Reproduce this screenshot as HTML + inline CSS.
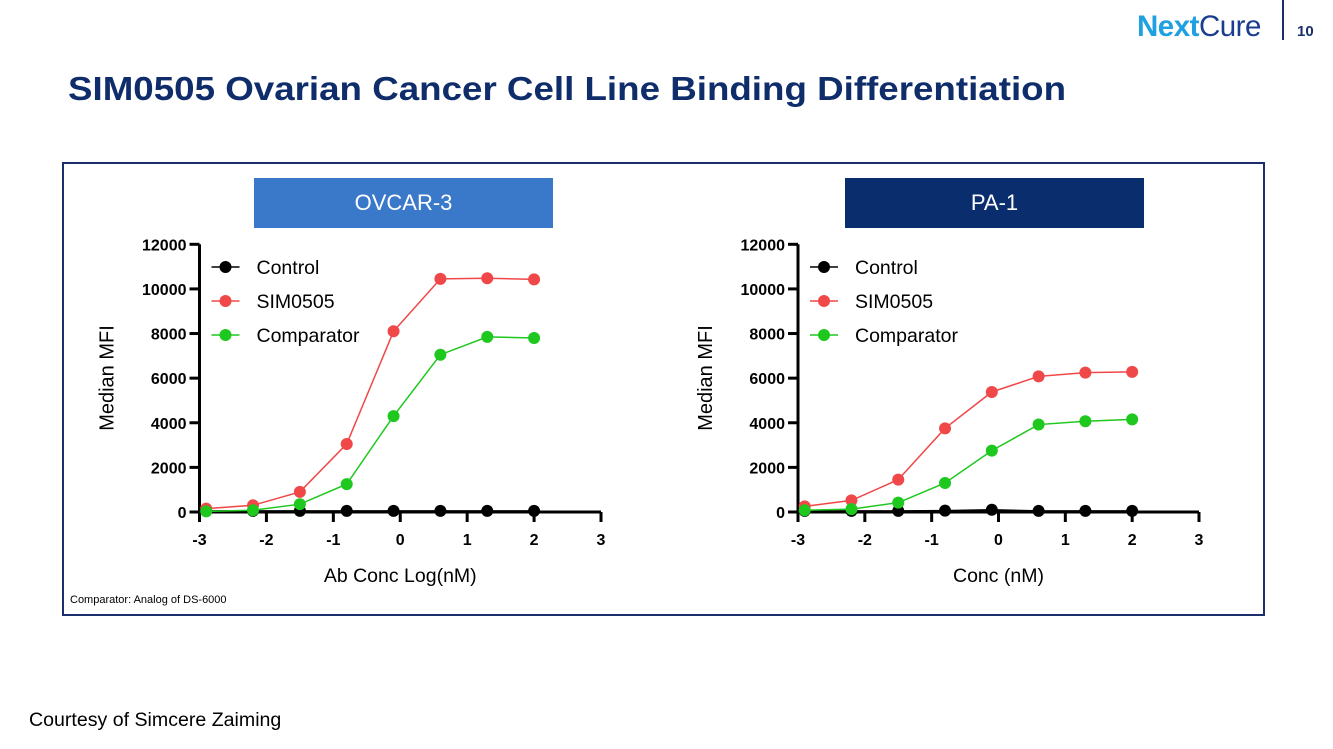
<!DOCTYPE html>
<html><head><meta charset="utf-8"><style>
body{margin:0;width:1333px;height:749px;background:#fff;font-family:"Liberation Sans",sans-serif;position:relative;overflow:hidden}
.abs{position:absolute}
</style></head><body>
<div class="abs" style="left:1137px;top:10px;font-size:29.5px;font-weight:bold;color:#1fa0e0;letter-spacing:-0.5px">Next<span style="color:#1a3d8f;font-weight:normal">Cure</span></div>
<div class="abs" style="left:1282px;top:0;width:2px;height:40px;background:#1a2f6b"></div>
<div class="abs" style="left:1297px;top:23px;font-size:15px;font-weight:bold;color:#1a2f6b">10</div>
<div class="abs" style="left:68px;top:70px;font-size:33px;font-weight:bold;color:#0f2d6b;transform:scaleX(1.113);transform-origin:0 0;white-space:nowrap">SIM0505 Ovarian Cancer Cell Line Binding Differentiation</div>
<div class="abs" style="left:62px;top:162px;width:1199px;height:450px;border:2px solid #1a2f6b"></div>
<div class="abs" style="left:254px;top:178px;width:299px;height:50px;background:#3a78c9;color:#fff;font-size:22px;line-height:50px;text-align:center">OVCAR-3</div>
<div class="abs" style="left:845px;top:178px;width:299px;height:50px;background:#0a2d6e;color:#fff;font-size:22px;line-height:50px;text-align:center">PA-1</div>
<div class="abs" style="left:70px;top:594px;font-size:11px;color:#000">Comparator: Analog of DS-6000</div>
<div class="abs" style="left:29px;top:710px;font-size:19px;color:#000;transform:scaleX(1.03);transform-origin:0 0">Courtesy of Simcere Zaiming</div>
<svg id="svg" class="abs" style="left:0;top:0" width="1333" height="749"></svg>
<script>
const xValues=[-2.9,-2.2,-1.5,-0.8,-0.1,0.6,1.3,2.0];
const xTicks=[-3,-2,-1,0,1,2,3];
const yTicks=[0,2000,4000,6000,8000,10000,12000];
const ovControl=[50,50,50,50,50,50,50,50];
const ovSim=[150,300,900,3050,8100,10450,10480,10430];
const ovComp=[30,80,350,1250,4300,7050,7850,7800];
const paControl=[50,50,50,60,100,50,50,50];
const paSim=[250,520,1450,3750,5380,6080,6250,6280];
const paComp=[80,130,420,1300,2750,3920,4070,4150];
const NS='http://www.w3.org/2000/svg';
const svg=document.getElementById('svg');
function mk(t,a,p){const e=document.createElementNS(NS,t);for(const k in a)e.setAttribute(k,a[k]);(p||svg).appendChild(e);return e;}
function chart(x0,x1,xtitle,series,key){
  const y0=512,y1=244.3;
  const X=v=>x0+(v+3)/6*(x1-x0), Y=v=>y0+(v/12000)*(y1-y0);
  const g=mk('g',{});
  
  
  mk('line',{x1:x0,y1:y0,x2:x1,y2:y0,stroke:'#000','stroke-width':3},g);
  mk('line',{x1:x0,y1:y0+1.5,x2:x0,y2:y1,stroke:'#000','stroke-width':3},g);
  xTicks.forEach(t=>{mk('line',{x1:X(t),y1:y0,x2:X(t),y2:y0+10,stroke:'#000','stroke-width':3},g);
    const tx=mk('text',{x:X(t),y:y0+33,'text-anchor':'middle','font-size':16,'font-weight':'bold'},g);tx.textContent=t;});
  yTicks.forEach(t=>{mk('line',{x1:x0-10,y1:Y(t),x2:x0,y2:Y(t),stroke:'#000','stroke-width':3},g);
    const tx=mk('text',{x:x0-13,y:Y(t)+6,'text-anchor':'end','font-size':16,'font-weight':'bold'},g);tx.textContent=t;});
  const xt=mk('text',{x:(x0+x1)/2,y:582,'text-anchor':'middle','font-size':19.5},g);xt.textContent=xtitle;
  
  const yt=mk('text',{transform:`translate(${x0-86},378) rotate(-90)`,'text-anchor':'middle','font-size':20},g);yt.textContent='Median MFI';
  
  series.forEach((s,i)=>{
    const pts=s.vals.map((v,j)=>X(xValues[j])+','+Y(v)).join(' ');
    const pl=mk('polyline',{points:pts,fill:'none',stroke:s.c,'stroke-width':1.5},g);
    
    s.vals.forEach((v,j)=>{const c=mk('circle',{cx:X(xValues[j]),cy:Y(v),r:6,fill:s.c},g);
      });
    const ly=267+i*34;
    const lg=mk('g',{},g);
    
    
    mk('line',{x1:x0+12,y1:ly,x2:x0+40,y2:ly,stroke:s.c,'stroke-width':1.5},lg);
    mk('circle',{cx:x0+26,cy:ly,r:6,fill:s.c},lg);
    const t=mk('text',{x:x0+57,y:ly+7,'font-size':19.5},lg);t.textContent=s.n;
  });
}
chart(199.5,601,'Ab Conc Log(nM)',[{n:'Control',c:'#000',vals:ovControl},{n:'SIM0505',c:'#f04848',vals:ovSim},{n:'Comparator',c:'#1ec81e',vals:ovComp}],'ovcar3');
chart(798,1199,'Conc (nM)',[{n:'Control',c:'#000',vals:paControl},{n:'SIM0505',c:'#f04848',vals:paSim},{n:'Comparator',c:'#1ec81e',vals:paComp}],'pa1');
</script>
</body></html>
